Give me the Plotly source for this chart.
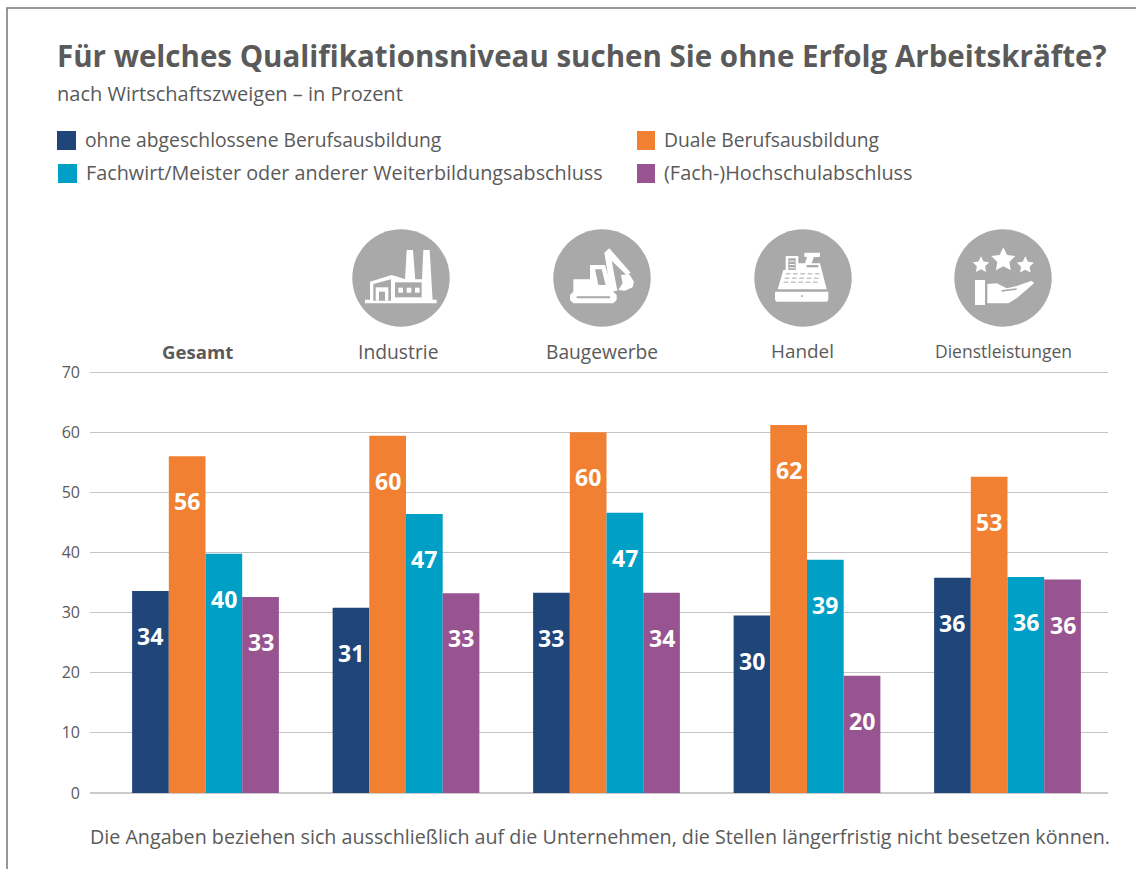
import math
import plotly.graph_objects as go

W, H = 1136, 869
L, R, T, B = 90, 1108, 372, 793

categories = ["Gesamt", "Industrie", "Baugewerbe", "Handel", "Dienstleistungen"]
series_names = ["ohne abgeschlossene Berufsausbildung", "Duale Berufsausbildung",
                "Fachwirt/Meister oder anderer Weiterbildungsabschluss", "(Fach-)Hochschulabschluss"]
colors = ["#1f4579", "#f18032", "#009fc6", "#985490"]
ohne = [33.6, 30.8, 33.3, 29.5, 35.8]
dual = [56.0, 59.4, 60.0, 61.2, 52.6]
fachwirt = [39.8, 46.4, 46.6, 38.8, 35.9]
hochschule = [32.6, 33.2, 33.3, 19.5, 35.5]
label_ohne = ["34", "31", "33", "30", "36"]
label_dual = ["56", "60", "60", "62", "53"]
label_fachwirt = ["40", "47", "47", "39", "36"]
label_hochschule = ["33", "33", "34", "20", "36"]
series = [ohne, dual, fachwirt, hochschule]
labels = [label_ohne, label_dual, label_fachwirt, label_hochschule]
tick_values = [0, 10, 20, 30, 40, 50, 60, 70]

title = "Für welches Qualifikationsniveau suchen Sie ohne Erfolg Arbeitskräfte?"
subtitle = "nach Wirtschaftszweigen – in Prozent"
footnote = "Die Angaben beziehen sich ausschließlich auf die Unternehmen, die Stellen längerfristig nicht besetzen können."

FONT = "Open Sans"
TXT = "#5a5a5a"
BAR_W = 0.183
group_px = 200.5
first_px = 205.5

fig = go.Figure()
for j, (name, vals, col) in enumerate(zip(series_names, series, colors)):
    fig.add_bar(x=list(range(5)), y=vals, name=name, marker=dict(color=col, line_width=0),
                showlegend=False, hoverinfo="y")
fig.update_layout(
    barmode="group", bargap=1 - 4 * BAR_W, bargroupgap=0,
    width=W, height=H, autosize=False, margin=dict(l=L, r=W - R, t=T - 1, b=H - B),
    paper_bgcolor="white", plot_bgcolor="white", showlegend=False,
    font=dict(family=FONT, color=TXT, size=15),
    xaxis=dict(range=[(L - first_px) / group_px, (R - first_px) / group_px],
               showticklabels=False, showgrid=False, zeroline=False, ticks="",
               showline=False, fixedrange=True),
    yaxis=dict(range=[0, 70.17], tickvals=tick_values, showgrid=True, gridcolor="#c4c4c4", gridwidth=1,
               zeroline=True, zerolinecolor="#cacaca", zerolinewidth=2, ticks="", ticklabelstandoff=9,
               tickfont=dict(size=16, color=TXT, family=FONT), fixedrange=True),
)

def px(x): return (x - L) / (R - L)
def py(y): return (B - y) / (B - T + 1)

def text(x, y, s, size, anchor="left", bold=False, color=TXT):
    fig.add_annotation(xref="paper", yref="paper", x=px(x), y=py(y), text=f"<b>{s}</b>" if bold else s,
                       showarrow=False, xanchor=anchor, yanchor="middle",
                       font=dict(size=size, color=color, family=FONT), borderpad=0, borderwidth=0)

# data labels, hanging a fixed distance below each bar top
for j, (vals, labs) in enumerate(zip(series, labels)):
    for i, (v, t) in enumerate(zip(vals, labs)):
        fig.add_annotation(x=i + (j - 1.5) * BAR_W, y=v, xref="x", yref="y", text=f"<b>{t}</b>",
                           showarrow=False, yshift=-45, yanchor="middle",
                           font=dict(size=23, color="white", family=FONT))

text(57, 55, title, 29.5, bold=True)
text(57, 93, subtitle, 20)
text(85, 140, series_names[0], 19.3)
text(86, 173, series_names[2], 19.8)
text(664, 140, series_names[1], 19.3)
text(664, 173, series_names[3], 19.9)
text(599.5, 836, footnote, 19.7, anchor="center")

cat_x = [197, 398, 602, 802, 1003]
cat_size = [18.6, 19.3, 19.2, 18.9, 17.5]
for i, c in enumerate(categories):
    text(cat_x[i], 351, c, cat_size[i], anchor="center", bold=(i == 0))

def shape_rect(x0, y0, x1, y1, col):
    fig.add_shape(type="rect", xref="paper", yref="paper", x0=px(x0), x1=px(x1), y0=py(y0), y1=py(y1),
                  fillcolor=col, line_width=0)

shape_rect(57, 131, 76, 150, colors[0])
shape_rect(58, 164, 77, 183, colors[2])
shape_rect(637, 131, 655, 150, colors[1])
shape_rect(637, 164, 655, 183, colors[3])

# frame
fig.add_shape(type="path", xref="paper", yref="paper",
              path=f"M {px(7)} {py(869)} L {px(7)} {py(8)} L {px(1136)} {py(8)}",
              line=dict(color="#777777", width=1.5))

GR = "#a9a9a9"
def circle(cx, cy, r=48.7, col=GR):
    fig.add_shape(type="circle", xref="paper", yref="paper", x0=px(cx - r), x1=px(cx + r),
                  y0=py(cy + r), y1=py(cy - r), fillcolor=col, line_width=0)

def poly(ox, oy, pts, col="white"):
    """pts are in 3x zoom pixels with origin (ox, oy) page pixels"""
    d = "M " + " L ".join(f"{px(ox + a / 3)} {py(oy + b / 3)}" for a, b in pts) + " Z"
    fig.add_shape(type="path", xref="paper", yref="paper", path=d, fillcolor=col, line_width=0)

def box(ox, oy, x0, y0, x1, y1, col="white"):
    poly(ox, oy, [(x0, y0), (x1, y0), (x1, y1), (x0, y1)], col)

def star(ox, oy, cx, cy, r):
    pts = []
    for k in range(10):
        rr = r if k % 2 == 0 else r * 0.5
        a = -math.pi / 2 + k * math.pi / 5
        pts.append((cx + rr * math.cos(a), cy + rr * math.sin(a)))
    poly(ox, oy, pts)

for cx in [401, 602, 803, 1003]:
    circle(cx, 278)

# Industrie
o = (355, 240)
box(*o, 30, 179, 245, 190)
poly(*o, [(155, 30), (174, 30), (181, 122), (150, 122)])
poly(*o, [(205, 30), (224, 30), (233, 182), (198, 182)])
poly(*o, [(45, 125), (110, 105), (152, 118), (205, 118), (205, 182), (45, 182)])
poly(*o, [(55, 132), (108, 118), (108, 182), (55, 182)], GR)
box(*o, 62, 142, 100, 182)
box(*o, 72, 155, 90, 182, GR)
box(*o, 120, 127, 200, 172, GR)
for a in (130, 155, 180):
    box(*o, a, 143, a + 14, 158)

# Baugewerbe
o = (560, 240)
poly(*o, [(30, 165), (40, 155), (160, 155), (170, 165), (170, 180), (160, 190), (40, 190), (30, 180)])
poly(*o, [(40, 118), (90, 118), (90, 75), (135, 75), (160, 157), (40, 157)])
poly(*o, [(105, 88), (125, 88), (137, 135), (115, 135)], GR)
poly(*o, [(133, 38), (148, 25), (212, 98), (200, 106), (155, 62), (172, 152), (152, 155)])
poly(*o, [(183, 105), (208, 103), (222, 125), (218, 142), (195, 152), (175, 150), (188, 130)])
box(*o, 50, 169, 150, 175, GR)

# Handel
o = (765, 240)
poly(*o, [(30, 155), (190, 155), (190, 180), (185, 185), (35, 185), (30, 180)])
poly(*o, [(38, 148), (55, 90), (62, 90), (62, 48), (100, 48), (100, 70), (120, 70), (126, 52), (118, 50),
          (118, 38), (165, 38), (165, 50), (146, 52), (140, 70), (165, 70), (185, 148)])
box(*o, 70, 55, 92, 90, GR)
for y in (62, 72, 82):
    box(*o, 73, y, 89, y + 3)
box(*o, 125, 75, 160, 82, GR)
for row, y in enumerate((100, 113, 125)):
    for a in (62, 84, 106, 128, 150):
        box(*o, a - row * 3, y, a + 14 - row * 3, y + 3, GR)
box(*o, 108, 166, 113, 171, GR)

# Dienstleistungen
o = (730, 220)
star(*o, 753, 135, 26)
star(*o, 820, 120, 38)
star(*o, 886, 136, 27)
box(*o, 735, 180, 765, 255)
poly(*o, [(772, 192), (800, 190), (830, 205), (860, 198), (905, 182), (912, 190), (860, 235),
          (835, 250), (772, 250)])
poly(*o, [(815, 210), (860, 205), (860, 209), (815, 215)], GR)

fig.write_html("out.html", config={"displayModeBar": False},
               post_script="document.body.style.margin='0';")
